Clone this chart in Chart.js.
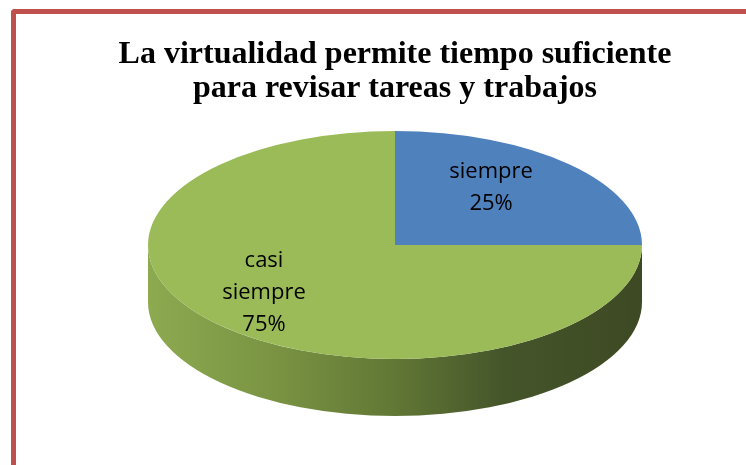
<!DOCTYPE html>
<html>
<head>
<meta charset="utf-8">
<script src="https://cdn.jsdelivr.net/npm/chart.js@4.4.1/dist/chart.umd.min.js"></script>
<style>
  html, body { margin: 0; padding: 0; background: #fff; overflow: hidden; }
  .frame {
    position: absolute; left: 11px; top: 9px; width: 800px; height: 520px;
    border-left: 5px solid #C0504D; border-top: 5px solid #C0504D;
    border-top-left-radius: 4px;
  }
  .wrap { position: absolute; left: 0; top: 0; width: 746px; height: 465px; }
</style>
</head>
<body>
<div class="frame"></div>
<div class="wrap"><canvas id="chart"></canvas></div>
<script>
const categories = ['siempre', 'casi siempre'];
const values = [25, 75];
const colors = ['#4F81BD', '#9BBB59'];
const titleLines = ['La virtualidad permite tiempo suficiente', 'para revisar tareas y trabajos'];

// flattened pie with a side wall, drawn from the arc elements
const tilt = 0.4615;
const depth = 57;

const pie3d = {
  id: 'pie3d',
  beforeDatasetsDraw(chart) {
    const ctx = chart.ctx;
    const arcs = chart.getDatasetMeta(0).data;
    const first = arcs[0];
    const cx = first.x, cy = first.y, R = first.outerRadius;

    // side wall (only the front half, 0..PI)
    arcs.forEach(arc => {
      const a0 = Math.max(arc.startAngle, 0);
      const a1 = Math.min(arc.endAngle, Math.PI);
      if (a1 <= a0) return;
      const g = ctx.createLinearGradient(cx - R, 0, cx + R, 0);
      g.addColorStop(0, '#8DAA50');
      g.addColorStop(0.25, '#7A9443');
      g.addColorStop(0.5, '#617735');
      g.addColorStop(0.72, '#45552A');
      g.addColorStop(1, '#3D4923');
      ctx.save();
      ctx.beginPath();
      ctx.ellipse(cx, cy, R, R * tilt, 0, a0, a1);
      ctx.ellipse(cx, cy + depth, R, R * tilt, 0, a1, a0, true);
      ctx.closePath();
      ctx.fillStyle = g;
      ctx.fill();
      ctx.restore();
    });

    ctx.save();
    ctx.translate(cx, cy);
    ctx.scale(1, tilt);
    ctx.translate(-cx, -cy);
  },
  afterDatasetsDraw(chart, args, opts) {
    const ctx = chart.ctx;
    ctx.restore();
    const arcs = chart.getDatasetMeta(0).data;
    const data = chart.data.datasets[0].data;
    const total = data.reduce((a, b) => a + b, 0);
    ctx.save();
    ctx.font = opts.font;
    ctx.fillStyle = '#000';
    ctx.textAlign = 'center';
    ctx.textBaseline = 'middle';
    arcs.forEach((arc, i) => {
      const mid = (arc.startAngle + arc.endAngle) / 2;
      const f = opts.labelRadius[i];
      const x = arc.x + Math.cos(mid) * arc.outerRadius * f;
      const y = arc.y + Math.sin(mid) * arc.outerRadius * tilt * f + opts.shiftY;
      const lines = chart.data.labels[i].split(' ');
      lines.push(Math.round(data[i] / total * 100) + '%');
      const top = y - (lines.length - 1) * opts.lineHeight / 2;
      lines.forEach((t, j) => ctx.fillText(t, x, top + j * opts.lineHeight));
    });
    ctx.restore();
  }
};

new Chart(document.getElementById('chart'), {
  type: 'pie',
  data: {
    labels: categories,
    datasets: [{
      data: values,
      backgroundColor: colors,
      borderWidth: 0,
      radius: 247,
      clip: false
    }]
  },
  options: {
    responsive: true,
    maintainAspectRatio: false,
    animation: false,
    layout: { padding: { left: 44, right: 0, top: 0, bottom: 89 } },
    plugins: {
      legend: { display: false },
      tooltip: { enabled: false },
      title: {
        display: true,
        text: titleLines,
        color: '#000',
        font: { family: '"Liberation Serif", "Times New Roman", serif', size: 32, weight: 'bold', lineHeight: 1.0625 },
        padding: { top: 38, bottom: 8 }
      },
      pie3d: {
        font: '22px "Open Sans", sans-serif',
        lineHeight: 32,
        labelRadius: [0.55, 0.75],
        shiftY: -13
      }
    }
  },
  plugins: [pie3d]
});
</script>
</body>
</html>
